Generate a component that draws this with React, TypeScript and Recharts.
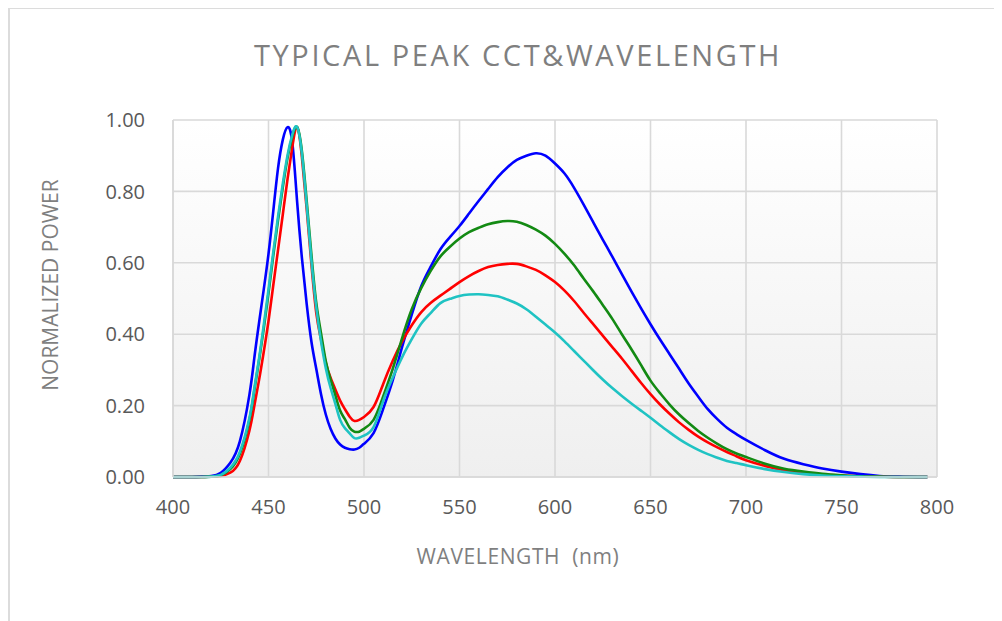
import { LineChart, Line, XAxis, YAxis, CartesianGrid } from "recharts";

// wavelength samples (nm), denser around the blue peak and the dip
const wavelength = [
  400, 405, 410, 415, 420, 425, 430, 435, 440,
  442.5, 445, 447.5, 450, 452.5, 455, 457.5, 460, 462.5, 465,
  467.5, 470, 472.5, 475, 477.5, 480, 482.5, 485, 487.5, 490,
  492.5, 495, 497.5, 500,
  505, 510, 515, 520, 525, 530, 535, 540, 545, 550,
  555, 560, 565, 570, 575, 580, 585, 590, 595, 600,
  605, 610, 615, 620, 625, 630, 635, 640, 645, 650,
  655, 660, 665, 670, 675, 680, 685, 690, 695, 700,
  710, 720, 730, 740, 750, 760, 770, 780, 790,
  795
];

const blueSeries = [
  0, 0, 0, 0.001, 0.003, 0.012, 0.04, 0.1, 0.23,
  0.33, 0.43, 0.525, 0.625, 0.745, 0.865, 0.945, 0.98, 0.935, 0.77,
  0.613, 0.484, 0.378, 0.303, 0.232, 0.175, 0.135, 0.108, 0.091, 0.082,
  0.078, 0.077, 0.082, 0.093,
  0.123, 0.19, 0.27, 0.365, 0.455, 0.535, 0.59, 0.638, 0.672, 0.703,
  0.738, 0.773, 0.807, 0.84, 0.867, 0.888, 0.9, 0.907, 0.9, 0.878,
  0.85, 0.81, 0.763, 0.714, 0.665, 0.617, 0.568, 0.52, 0.473, 0.428,
  0.385, 0.344, 0.303, 0.262, 0.225, 0.19, 0.162, 0.138, 0.12, 0.104,
  0.075, 0.051, 0.036, 0.024, 0.015, 0.008, 0.003, 0.001, 0,
  0
];

const redSeries = [
  0, 0, 0, 0, 0.001, 0.003, 0.012, 0.045, 0.13,
  0.197, 0.27, 0.35, 0.437, 0.537, 0.636, 0.736, 0.836, 0.925, 0.98,
  0.895, 0.75, 0.594, 0.46, 0.385, 0.32, 0.278, 0.245, 0.214, 0.19,
  0.169, 0.157, 0.16, 0.168,
  0.196, 0.26, 0.325, 0.38, 0.425, 0.462, 0.488, 0.508, 0.527, 0.546,
  0.563, 0.577, 0.588, 0.594, 0.597, 0.597, 0.59, 0.58, 0.565, 0.546,
  0.522, 0.493, 0.46, 0.428, 0.396, 0.364, 0.332, 0.298, 0.264, 0.232,
  0.203, 0.177, 0.153, 0.132, 0.113, 0.097, 0.083, 0.07, 0.058, 0.047,
  0.031, 0.019, 0.012, 0.007, 0.004, 0.002, 0.001, 0, 0,
  0
];

const greenSeries = [
  0, 0, 0, 0, 0.001, 0.005, 0.022, 0.065, 0.16,
  0.24, 0.325, 0.415, 0.515, 0.62, 0.72, 0.812, 0.895, 0.955, 0.98,
  0.912, 0.773, 0.621, 0.488, 0.403, 0.324, 0.273, 0.229, 0.186, 0.162,
  0.138, 0.127, 0.127, 0.135,
  0.16, 0.225, 0.302, 0.39, 0.47, 0.53, 0.578, 0.618, 0.645, 0.668,
  0.686, 0.698, 0.708, 0.714, 0.717, 0.715, 0.706, 0.693, 0.676, 0.653,
  0.625, 0.593, 0.556, 0.52, 0.482, 0.443, 0.4, 0.358, 0.314, 0.27,
  0.235, 0.203, 0.175, 0.151, 0.129, 0.11, 0.093, 0.078, 0.066, 0.056,
  0.037, 0.023, 0.015, 0.009, 0.005, 0.002, 0.001, 0, 0,
  0
];

const cyanSeries = [
  0, 0, 0, 0, 0.001, 0.006, 0.026, 0.07, 0.165,
  0.245, 0.33, 0.425, 0.525, 0.63, 0.73, 0.822, 0.902, 0.96, 0.98,
  0.905, 0.76, 0.605, 0.475, 0.38, 0.305, 0.25, 0.205, 0.16, 0.137,
  0.122, 0.109, 0.11, 0.116,
  0.14, 0.212, 0.278, 0.336, 0.386, 0.43, 0.46, 0.487, 0.499, 0.507,
  0.511, 0.512, 0.51, 0.506, 0.497, 0.486, 0.47, 0.449, 0.427, 0.405,
  0.38, 0.353, 0.326, 0.299, 0.273, 0.249, 0.227, 0.206, 0.186, 0.166,
  0.145, 0.125, 0.106, 0.09, 0.076, 0.064, 0.054, 0.045, 0.039, 0.033,
  0.022, 0.014, 0.008, 0.004, 0.002, 0.001, 0, 0, 0,
  0
];

const xTicks = [400, 450, 500, 550, 600, 650, 700, 750, 800];
const yTicks = [0, 0.2, 0.4, 0.6, 0.8, 1];

const data = wavelength.map((w, i) => ({
  w,
  blue: blueSeries[i],
  red: redSeries[i],
  green: greenSeries[i],
  cyan: cyanSeries[i]
}));

const FONT = '"Open Sans", sans-serif';
const tickStyle = { fill: "#595959", fontSize: 20, fontFamily: FONT };

export default function App() {
  return (
    <div style={{ position: "relative", width: 994, height: 613, background: "#fff", fontFamily: FONT }}>
      <div
        style={{
          position: "absolute",
          left: 0,
          top: -1,
          width: 994,
          height: 614,
          borderTop: "2px solid #dcdcdc",
          borderLeft: "2px solid #dcdcdc",
          boxSizing: "border-box"
        }}
      />
      <div
        style={{
          position: "absolute",
          left: 510,
          top: 32,
          transform: "translateX(-50%)",
          fontSize: 29,
          lineHeight: 1,
          letterSpacing: 2.6,
          color: "#7f7f7f",
          whiteSpace: "nowrap"
        }}
      >
        TYPICAL PEAK CCT&amp;WAVELENGTH
      </div>

      <LineChart
        width={994}
        height={613}
        data={data}
        margin={{ top: 112, right: 65, bottom: 0, left: 0 }}
        style={{ position: "absolute", left: 0, top: 0 }}
      >
        <defs>
          <linearGradient id="plotBg" x1="0" y1="0" x2="0" y2="1">
            <stop offset="0%" stopColor="#ffffff" />
            <stop offset="100%" stopColor="#efefef" />
          </linearGradient>
        </defs>
        <CartesianGrid stroke="#d9d9d9" strokeWidth={1.6} fill="url(#plotBg)" fillOpacity={1} />
        <XAxis
          dataKey="w"
          type="number"
          domain={[400, 800]}
          ticks={xTicks}
          height={144}
          axisLine={{ stroke: "#d9d9d9", strokeWidth: 1.6 }}
          tickLine={false}
          tickSize={15}
          tickMargin={8}
          tick={tickStyle}
        />
        <YAxis
          type="number"
          domain={[0, 1]}
          ticks={yTicks}
          width={165}
          axisLine={{ stroke: "#d9d9d9", strokeWidth: 1.6 }}
          tickLine={false}
          tickSize={20}
          tickMargin={8}
          tick={tickStyle}
          tickFormatter={(v: number) => v.toFixed(2)}
        />
        <Line type="natural" dataKey="blue" stroke="#0000ff" strokeWidth={2.6} dot={false} isAnimationActive={false} />
        <Line type="natural" dataKey="red" stroke="#ff0000" strokeWidth={2.6} dot={false} isAnimationActive={false} />
        <Line type="natural" dataKey="green" stroke="#138a13" strokeWidth={2.6} dot={false} isAnimationActive={false} />
        <Line type="natural" dataKey="cyan" stroke="#1fc3c3" strokeWidth={2.6} dot={false} isAnimationActive={false} />
      </LineChart>

      <div
        style={{
          position: "absolute",
          left: 42,
          top: 277,
          transform: "translate(-50%, -50%) rotate(-90deg)",
          fontSize: 21,
          lineHeight: 1,
          color: "#7f7f7f",
          whiteSpace: "nowrap"
        }}
      >
        NORMALIZED POWER
      </div>
      <div
        style={{
          position: "absolute",
          left: 510,
          top: 538,
          transform: "translateX(-50%)",
          fontSize: 21,
          lineHeight: 1,
          letterSpacing: 0.6,
          color: "#7f7f7f",
          whiteSpace: "pre"
        }}
      >
        {"WAVELENGTH  (nm)"}
      </div>
    </div>
  );
}
